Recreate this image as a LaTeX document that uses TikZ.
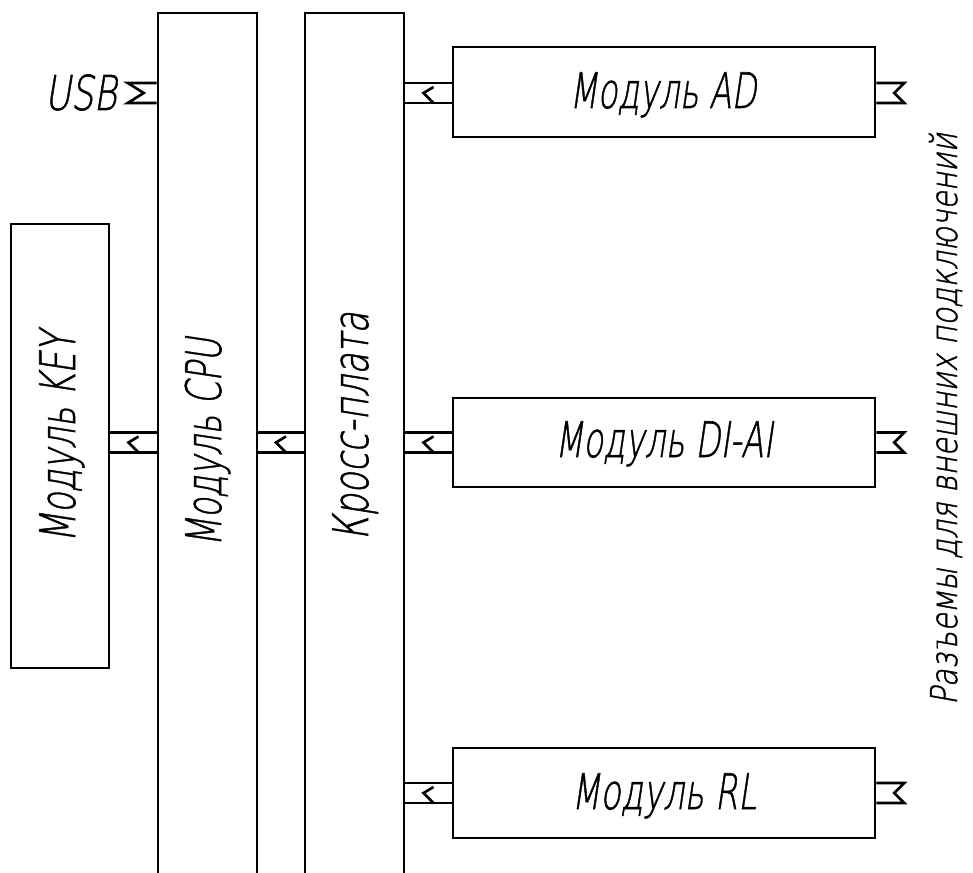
\documentclass[tikz,border=0pt]{standalone}
\usepackage{fontspec}
\usepackage{graphicx}
\newfontfamily\gost{DejaVu Sans ExtraLight}[FakeSlant=0.22,FakeBold=1.2]
\newcommand\gtxt[3]{{\fontsize{#1}{#1}\selectfont\gost\resizebox{#2pt}{\height}{#3}}}
\tikzset{
  ln/.style={line width=2.6pt},
  blk/.style={draw, ln, inner sep=0pt, minimum width=#1},
  lbl/.style={inner sep=0pt, anchor=base},
  vlbl/.style={inner sep=0pt, anchor=base, rotate=90}
}
\newcommand\linkboxes[3]{%
  \draw[ln] (#1.east |- 0,#3-10) -- (#2.west |- 0,#3-10);
  \draw[ln] (#1.east |- 0,#3+10) -- (#2.west |- 0,#3+10);
  \path (#1.east |- 0,#3) -- coordinate[pos=.5](mid) (#2.west |- 0,#3);
  \draw[ln] ([shift={(5,-6)}]mid) -- ([shift={(-5,0)}]mid) -- ([shift={(5,10)}]mid);
}
\begin{document}
\begin{tikzpicture}[x=1pt,y=-1pt]
\useasboundingbox (0,0) rectangle (973,872);
% blocks
\node[blk=98pt, minimum height=444pt] (key) at (60,446) {};
\node[blk=99pt, minimum height=887pt] (cpu) at (207.5,456.5) {};
\node[blk=99pt, minimum height=887pt] (kross) at (354.5,456.5) {};
\node[blk=422pt, minimum height=90pt] (ad) at (664,92) {};
\node[blk=422pt, minimum height=89pt] (diai) at (664,442.5) {};
\node[blk=422pt, minimum height=90pt] (rl) at (664,793) {};
% labels
\node[vlbl] (keyt) at (75,437) {\gtxt{49}{211}{Модуль KEY}};
\node[vlbl] (cput) at (221,442) {\gtxt{49}{209}{Модуль CPU}};
\node[vlbl] (krosst) at (368,426) {\gtxt{49}{228}{Кросс-плата}};
\node[lbl] (adt) at (663,108) {\gtxt{49}{187}{Модуль AD}};
\node[lbl] (diait) at (664,457) {\gtxt{49}{218}{Модуль DI-AI}};
\node[lbl] (rlt) at (664,809) {\gtxt{49}{185}{Модуль RL}};
\node[vlbl] (extt) at (957,419) {\gtxt{37}{572}{Разъемы для внешних подключений}};
\node[inner sep=0pt, anchor=base east] (usbt) at (117,110) {\gtxt{48}{72}{USB}};
% internal connectors
\linkboxes{key}{cpu}{442.5}
\linkboxes{cpu}{kross}{442.5}
\linkboxes{kross}{ad}{93}
\linkboxes{kross}{diai}{442.5}
\linkboxes{kross}{rl}{793}
% external connectors
\draw[ln] (cpu.west |- 0,83) -- ++(-29,0) -- ++(16,10) -- ++(-16,10) -- (cpu.west |- 0,103);
\draw[ln] (ad.east |- 0,83) -- ++(28,0) -- ++(-10,10) -- ++(10,10) -- (ad.east |- 0,103);
\draw[ln] (diai.east |- 0,432.5) -- ++(28,0) -- ++(-10,10) -- ++(10,10) -- (diai.east |- 0,452.5);
\draw[ln] (rl.east |- 0,783) -- ++(28,0) -- ++(-10,10) -- ++(10,10) -- (rl.east |- 0,803);
\end{tikzpicture}
\end{document}
